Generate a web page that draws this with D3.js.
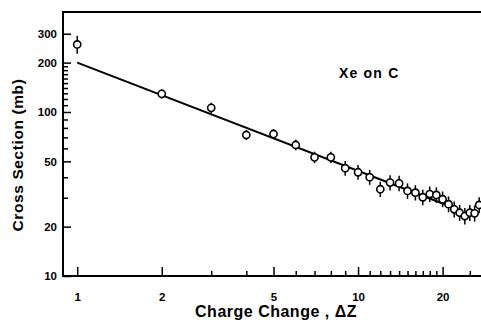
<!DOCTYPE html>
<html>
<head>
<meta charset="utf-8">
<script src="https://cdn.jsdelivr.net/npm/d3@7"></script>
<style>
	body { margin: 0; background: #fff; }
	svg { display: block; font-family: 'Liberation Sans', Arial, sans-serif; }
	.tick text { font-weight: 700; font-size: 11.5px; fill: #000; }
</style>
</head>
<body>
<div id="chart"></div>
<script>
	// charge change, measured cross section (mb), error (mb)
	const dz = [1, 2, 3, 4, 5, 6, 7, 8, 9, 10, 11, 12, 13, 14, 15, 16, 17, 18, 19, 20, 21, 22, 23, 24, 25, 26, 27];
	const sigma = [258, 129, 106, 72.4, 73.4, 62.9, 52.9, 52.9, 45.4, 42.9, 40.0, 33.8, 37.1, 36.7, 33.0, 32.2, 30.2, 31.6, 31.2, 29.4, 27.4, 25.5, 24.3, 23.2, 24.3, 24.1, 27.1];
	const sigmaErr = [22, 3, 3, 2, 2, 2, 2, 2, 2.8, 2.6, 2.5, 2.2, 2.4, 2.4, 2.2, 2.1, 2.0, 2.1, 2.1, 2.0, 1.9, 1.8, 1.7, 1.7, 1.7, 1.7, 1.9];
	// power-law fit drawn through the data
	const fitLine = [[1, 200], [21, 26.8]];

	const xMajor = [1, 2, 5, 10, 20];
	const xMinor = [3, 4, 6, 7, 8, 9, 11, 12, 13, 14, 15, 16, 17, 18, 19, 25];
	const yMajor = [10, 20, 50, 100, 200, 300];
	const yMinor = [30, 40, 60, 70, 80, 90, 110, 120, 130, 140, 150, 160, 170, 180, 190];

	const W = 481, H = 320;
	const frame = { left: 63, right: 481, top: 12, bottom: 276 };

	const svg = d3.select('#chart').append('svg')
		.attr('width', W)
		.attr('height', H);

	const x = d3.scaleLog().domain([0.89, 27.4]).range([frame.left, frame.right]);
	const y = d3.scaleLog().domain([10, 407]).range([frame.bottom, frame.top]);

	// frame
	svg.append('path')
		.attr('d', `M${frame.right},${frame.top}H${frame.left}V${frame.bottom}H${frame.right}`)
		.style('fill', 'none')
		.style('stroke', '#000')
		.style('stroke-width', 2);

	const drawAxis = (axis, transform) => {
		const g = svg.append('g')
			.attr('transform', transform)
			.call(axis);
		g.select('.domain').remove();
		g.selectAll('.tick line').style('stroke', '#000').style('stroke-width', 1.5);
		return g;
	};

	drawAxis(d3.axisBottom(x).tickValues(xMajor).tickSize(-9).tickPadding(17).tickFormat(d3.format('d')),
		`translate(0,${frame.bottom})`);
	drawAxis(d3.axisBottom(x).tickValues(xMinor).tickSize(-5).tickFormat(''),
		`translate(0,${frame.bottom})`);
	drawAxis(d3.axisLeft(y).tickValues(yMajor).tickSize(-8).tickPadding(6).tickFormat(d3.format('d')),
		`translate(${frame.left},0)`);
	drawAxis(d3.axisLeft(y).tickValues(yMinor).tickSize(-5).tickFormat(''),
		`translate(${frame.left},0)`);

	// fit line
	svg.append('path')
		.attr('d', d3.line().x(d => x(d[0])).y(d => y(d[1]))(fitLine))
		.style('fill', 'none')
		.style('stroke', '#000')
		.style('stroke-width', 2);

	const pts = svg.append('g');
	dz.forEach((z, i) => {
		pts.append('line')
			.attr('x1', x(z)).attr('x2', x(z))
			.attr('y1', y(sigma[i] + sigmaErr[i]) - 3)
			.attr('y2', y(sigma[i] - sigmaErr[i]) + 3)
			.style('stroke', '#000')
			.style('stroke-width', 1.5);
		pts.append('circle')
			.attr('cx', x(z))
			.attr('cy', y(sigma[i]))
			.attr('r', 3.6)
			.style('fill', '#fff')
			.style('stroke', '#000')
			.style('stroke-width', 1.6);
	});

	// labels
	svg.append('text')
		.attr('x', 339)
		.attr('y', 78)
		.style('font-size', '14px')
		.style('font-weight', 700)
		.style('letter-spacing', '1.2px')
		.text('Xe on C');

	svg.append('text')
		.attr('x', 276)
		.attr('y', 317)
		.style('font-size', '16px')
		.style('font-weight', 700)
		.style('letter-spacing', '0.5px')
		.style('text-anchor', 'middle')
		.text('Charge Change , ΔZ');

	svg.append('text')
		.attr('transform', 'rotate(-90)')
		.attr('x', -155)
		.attr('y', 23)
		.style('font-size', '15.5px')
		.style('font-weight', 700)
		.style('letter-spacing', '0.6px')
		.style('text-anchor', 'middle')
		.text('Cross Section (mb)');
</script>
</body>
</html>
